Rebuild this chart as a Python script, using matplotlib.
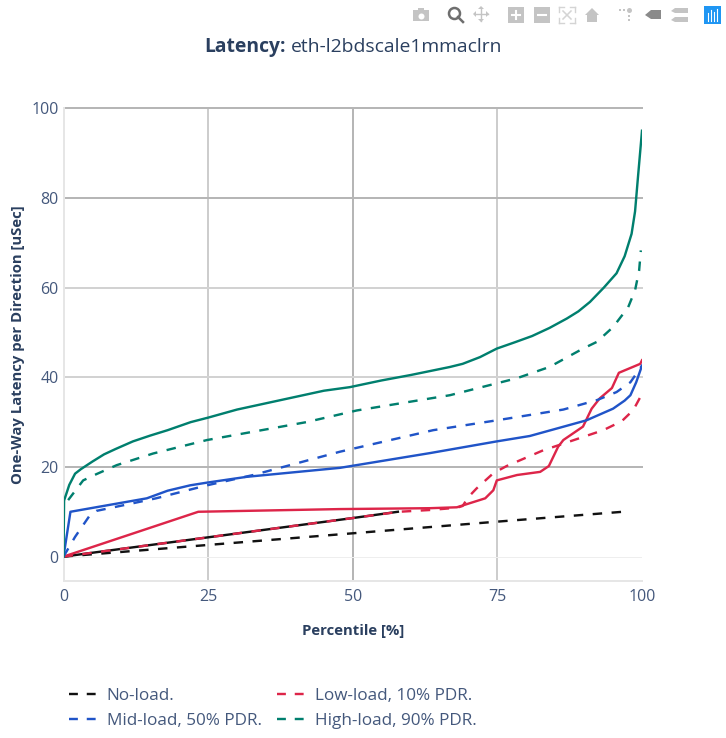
import matplotlib
matplotlib.use("Agg")
import matplotlib.pyplot as plt
from matplotlib.lines import Line2D
from matplotlib.patches import Rectangle, Polygon

W, H = 726, 738
TEXT = "#2a3f5f"
TICK = "#44587c"
BLACK, RED, BLUE, GREEN = "#111111", "#dd2549", "#2054c8", "#007f6e"

title_bold = "Latency:"
title_rest = "eth-l2bdscale1mmaclrn"
x_label = "Percentile [%]"
y_label = "One-Way Latency per Direction [uSec]"
x_ticks = [0, 25, 50, 75, 100]
y_ticks = [0, 20, 40, 60, 80, 100]

noload_x = [0, 25, 50, 57.8]
noload_y = [0, 4.3, 8.6, 10]
noload_dash_x = [0, 25, 50, 75, 96.7]
noload_dash_y = [0, 2.6, 5.2, 7.8, 10]

low_x = [0, 23.3, 47.8, 63.4, 68, 72.9, 74.3, 74.9, 78.4, 82.4, 83.9, 85.5, 86.4, 89.8, 91.3, 92.7, 94.8, 96, 99.7, 100]
low_y = [0, 10, 10.6, 10.8, 11, 13, 14.8, 17, 18.2, 18.9, 20.2, 24.5, 26, 29, 33, 35.3, 37.6, 41, 43, 43.8]
low_dash_x = [0, 25, 50, 58, 63.4, 68, 69, 70, 71.4, 74.3, 76.6, 82.9, 86.4, 93.3, 96.5, 98.5, 99.8]
low_dash_y = [0, 4.3, 8.6, 10, 10.4, 10.9, 11.3, 13.3, 15.2, 18.6, 20.2, 23.7, 25.2, 28.2, 30.2, 32.7, 35.8]

mid_x = [0, 1.2, 14.4, 18, 21.9, 24.8, 31.7, 47.8, 63.4, 74.9, 80.6, 90.4, 95, 97, 98, 99, 100]
mid_y = [0, 10, 13, 14.7, 15.9, 16.5, 17.8, 19.8, 23.1, 25.7, 26.9, 30.4, 33, 34.8, 36, 38.9, 42.6]
mid_dash_x = [0, 2, 4.6, 5.7, 12, 16, 24.8, 32.8, 47.8, 63.9, 74.9, 86.4, 92.2, 95.6, 98, 100]
mid_dash_y = [0, 4.4, 9.3, 10.2, 11.9, 13, 15.9, 18.2, 23.4, 28.2, 30.4, 32.8, 34.9, 36.7, 38.9, 42.6]

high_x = [0, 0.1, 1, 2, 3, 5, 7, 9, 12, 15, 18, 22, 25, 30, 35, 40, 45, 49.5, 55, 60, 66.8, 69, 72, 74.9, 78, 81, 84, 87, 89, 91, 93.4, 95.6, 97, 98.2, 98.8, 99.3, 99.8, 100]
high_y = [0, 12.5, 16, 18.5, 19.5, 21.2, 22.8, 24, 25.7, 27, 28.2, 30, 31, 32.8, 34.2, 35.6, 37, 37.8, 39.3, 40.5, 42.3, 43, 44.5, 46.4, 47.8, 49.2, 51, 53.1, 54.7, 56.8, 60, 63.2, 67, 72, 77, 84.6, 92, 95]
high_dash_x = [0.8, 3.4, 5.7, 9.2, 15.5, 24.8, 42, 50.7, 66.8, 78.4, 84, 89.8, 92.2, 95, 97.6, 98.8, 99.5, 99.8]
high_dash_y = [12.6, 17, 18.4, 20.4, 23, 26, 30, 32.6, 36, 39.8, 42.3, 46.4, 47.9, 51.2, 55.6, 59.4, 63.8, 68.3]

legend_labels = ["No-load.", "Mid-load, 50% PDR.", "Low-load, 10% PDR.", "High-load, 90% PDR."]
legend_colors = [BLACK, BLUE, RED, GREEN]

plt.rcParams["font.family"] = ["Open Sans", "DejaVu Sans"]
PX = 0.72
fig = plt.figure(figsize=(W / 100, H / 100), dpi=100)
y0, ppu = 556.6, 4.483
ax_left, ax_right, ax_top, ax_bottom = 63.5, 642.0, 108.3, 581.0
ax = fig.add_axes([ax_left / W, 1 - ax_bottom / H, (ax_right - ax_left) / W, (ax_bottom - ax_top) / H])
ax.set_xlim(0, 100)
ax.set_ylim((y0 - ax_bottom) / ppu, 100)

for s in ("top", "right"):
    ax.spines[s].set_visible(False)
for s in ("left", "bottom"):
    ax.spines[s].set_color("#e6e6e6")
    ax.spines[s].set_linewidth(2 * PX)

grid_x = {25: "#cdcdcd", 50: "#b6b6b6", 75: "#cdcdcd"}
grid_y = {20: "#b6b6b6", 40: "#d2d2d2", 60: "#d2d2d2", 80: "#b6b6b6", 100: "#b6b6b6"}
for v, c in grid_x.items():
    ax.axvline(v, color=c, lw=2 * PX, zorder=1, clip_on=False)
for v, c in grid_y.items():
    ax.axhline(v, color=c, lw=2 * PX, zorder=1, clip_on=False)
ax.axhline(0, color="#eeeeee", lw=1 * PX, zorder=1)

ax.set_xticks(x_ticks)
ax.set_yticks(y_ticks)
ax.tick_params(length=0, labelsize=16 * PX, labelcolor=TICK, pad=5.5)
ax.tick_params(axis="y", pad=3.5)

LW = 2.4 * PX
DASH = (0, (3.95, 3.95))
ax.plot(noload_x, noload_y, color=BLACK, lw=LW, zorder=3)
ax.plot(noload_dash_x, noload_dash_y, color=BLACK, lw=LW, ls=DASH, dash_capstyle="butt", zorder=3)
ax.plot(low_x, low_y, color=RED, lw=LW, zorder=4)
ax.plot(low_dash_x, low_dash_y, color=RED, lw=LW, ls=DASH, dash_capstyle="butt", zorder=4)
ax.plot(mid_x, mid_y, color=BLUE, lw=LW, zorder=5)
ax.plot(mid_dash_x, mid_dash_y, color=BLUE, lw=LW, ls=DASH, dash_capstyle="butt", zorder=5)
ax.plot(high_x, high_y, color=GREEN, lw=LW, zorder=6)
ax.plot(high_dash_x, high_dash_y, color=GREEN, lw=LW, ls=DASH, dash_capstyle="butt", zorder=6)

def fx(x):
    return x / W
def fy(y):
    return 1 - y / H

fig.text(fx(353), fy(631.5), x_label, ha="center", va="center", fontsize=14.85 * PX, fontweight="bold", color=TEXT)
fig.text(fx(18), fy(344.5), y_label, ha="center", va="center", rotation=90, fontsize=14.85 * PX, fontweight="bold", color=TEXT)

t1 = fig.text(fx(204), fy(47), title_bold, ha="left", va="center", fontsize=19.3 * PX, fontweight="bold", color=TEXT)
fig.canvas.draw()
bb = t1.get_window_extent()
fig.text((bb.x1 + 5.5) / W, fy(47), title_rest, ha="left", va="center", fontsize=19.3 * PX, color=TEXT)

handles = [Line2D([], [], color=c, lw=LW, ls=(0, (3.7, 3.7)), dash_capstyle="butt") for c in legend_colors]
fig.legend(handles, legend_labels, ncols=2, frameon=False, loc="upper left",
           bbox_to_anchor=(fx(69), fy(688)), borderaxespad=0, borderpad=0,
           handlelength=1.744, handletextpad=0.465, columnspacing=0.88, labelspacing=0.55,
           prop={"size": 17.1 * PX}, labelcolor=TICK)

# modebar
G, D = "#c4c4c4", "#6e6e6e"
def rect(x, y, w, h, c=G):
    fig.add_artist(Rectangle((fx(x), fy(y + h)), w / W, h / H, color=c, lw=0, transform=fig.transFigure))
def poly(pts, c=G):
    fig.add_artist(Polygon([(fx(a), fy(b)) for a, b in pts], closed=True, color=c, lw=0, transform=fig.transFigure))
def circ(x, y, r, c=G, fill=True, lw=0):
    fig.add_artist(Line2D([fx(x)], [fy(y)], marker="o", ms=2 * r * PX, mfc=c if fill else "none", mec=c, mew=lw, ls="none", transform=fig.transFigure))
def seg(x1, y1, x2, y2, c=G, lw=1.0):
    fig.add_artist(Line2D([fx(x1), fx(x2)], [fy(y1), fy(y2)], color=c, lw=lw, transform=fig.transFigure))

rect(413, 10, 16, 11); rect(418, 8, 6, 3); circ(421, 15.5, 3, "white")
circ(454, 13, 5.5, D, False, 1.8); seg(458, 17, 463, 22, D, 1.8)
seg(475, 14, 488, 14); seg(481, 8, 481, 21)
poly([(473, 14), (476, 11), (476, 17)]); poly([(489, 14), (486, 11), (486, 17)])
poly([(481, 6), (478, 9), (484, 9)]); poly([(481, 22), (478, 19), (484, 19)])
rect(508, 7, 16, 16); seg(512, 15, 520, 15, "white", 1.5); seg(516, 11, 516, 19, "white", 1.5)
rect(534, 7, 16, 16); seg(538, 15, 546, 15, "white", 1.5)
L = "#d4d4d4"
seg(563, 11, 571, 19, L, 1.1); seg(571, 11, 563, 19, L, 1.1)
seg(559, 7, 564, 7, L); seg(559, 7, 559, 12, L)
seg(570, 7, 575, 7, L); seg(575, 7, 575, 12, L)
seg(559, 23, 564, 23, L); seg(559, 18, 559, 23, L)
seg(570, 23, 575, 23, L); seg(575, 18, 575, 23, L)
poly([(585, 15), (592, 8), (599, 15), (597, 15), (597, 22), (587, 22), (587, 15)])
circ(629, 10, 2.5); rect(628, 15, 2, 2); rect(628, 19, 2, 2); rect(619, 9, 2, 2); rect(623, 9, 2, 2)
poly([(645, 15), (651, 10), (661, 10), (661, 19), (651, 19)], "#8a8a8a")
poly([(671, 11), (675, 8), (688, 8), (688, 13), (675, 13)])
poly([(671, 20), (675, 17), (688, 17), (688, 22), (675, 22)])
rect(704, 6, 17, 18, "#1f96f3")
for xx, t, b in [(707.5, 13, 21), (710.5, 10, 21), (713.5, 12, 21), (716.5, 9, 21)]:
    seg(xx, t, xx, b, "white", 0.8)

fig.savefig("out.png", dpi=100)
